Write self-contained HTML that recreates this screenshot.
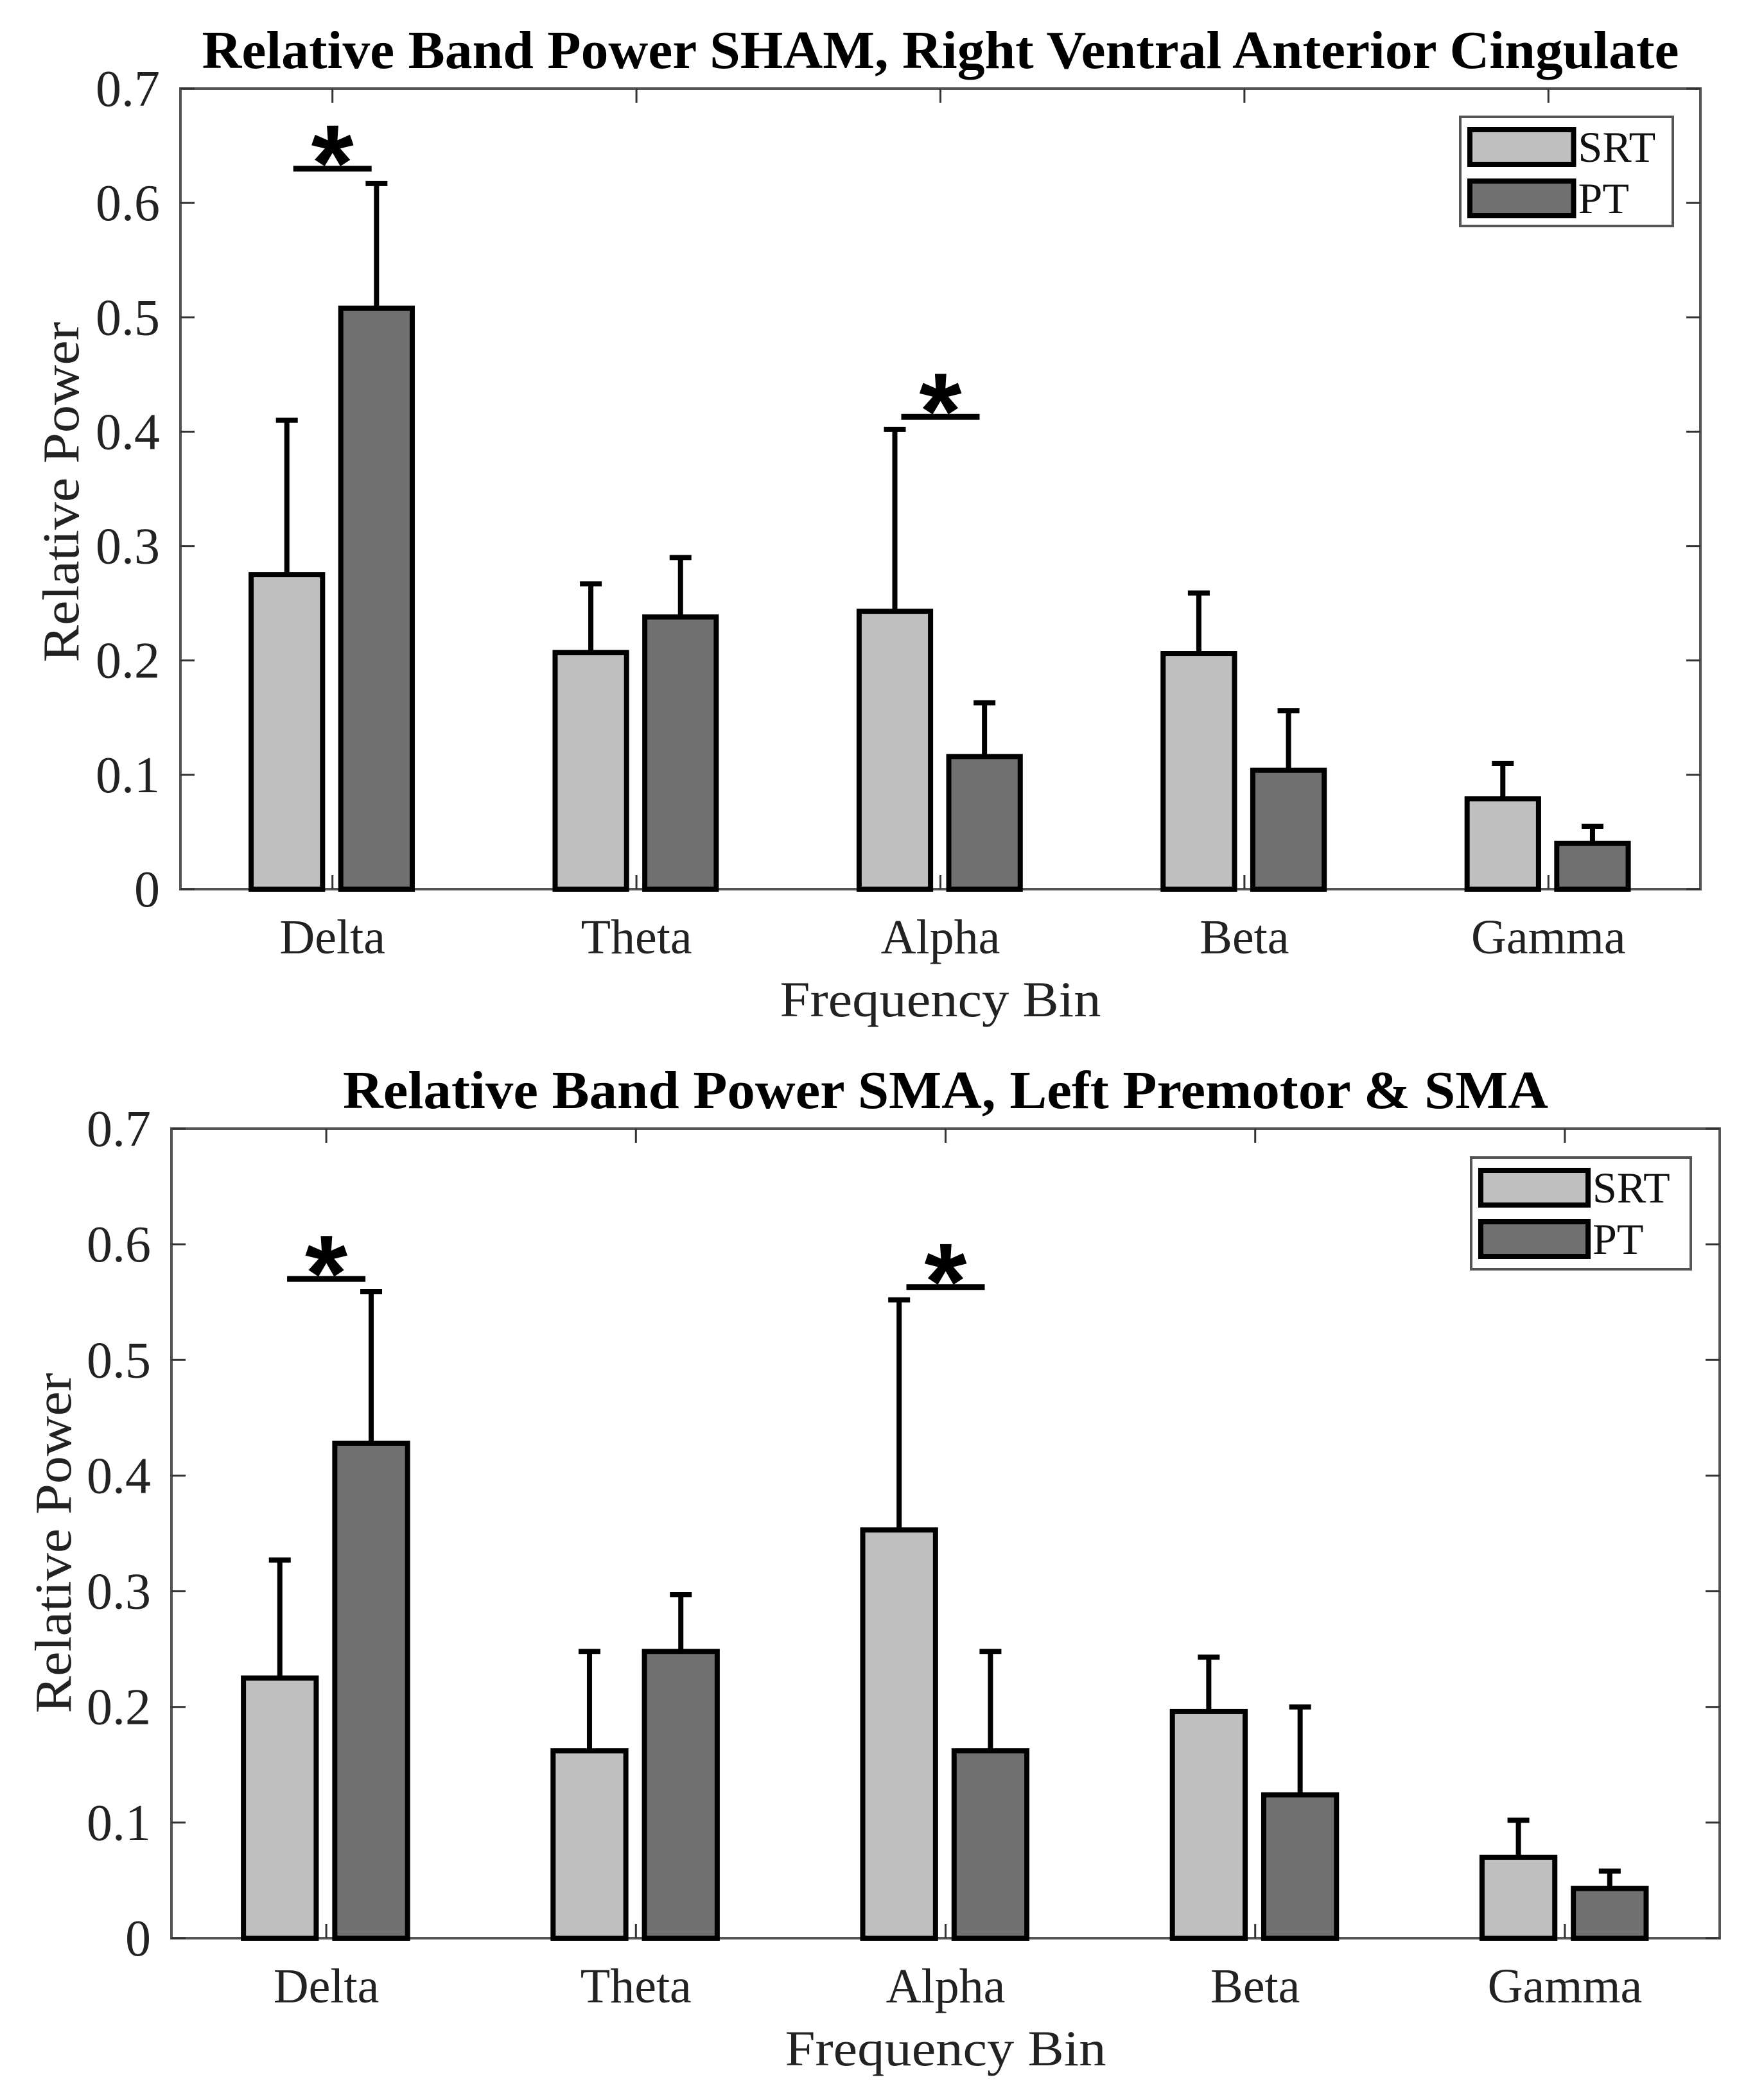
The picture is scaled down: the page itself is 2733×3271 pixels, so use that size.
<!DOCTYPE html>
<html><head><meta charset="utf-8"><style>html,body{margin:0;padding:0;background:#fff}svg{display:block}</style></head>
<body>
<svg id="fig" xmlns="http://www.w3.org/2000/svg" width="2733" height="3271" viewBox="0 0 2733 3271" font-family="Liberation Serif, serif"></svg>
<script>
const categories = ["Delta","Theta","Alpha","Beta","Gamma"];
const yTicks = [0,0.1,0.2,0.3,0.4,0.5,0.6,0.7];
const yTickLabels = ["0","0.1","0.2","0.3","0.4","0.5","0.6","0.7"];
const seriesNames = ["SRT","PT"];
const topSRT = [0.275,0.207,0.243,0.206,0.079];
const topSRTErr = [0.410,0.267,0.402,0.259,0.110];
const topPT = [0.508,0.238,0.116,0.104,0.040];
const topPTErr = [0.617,0.290,0.163,0.156,0.055];
const topSig = [[1,0.630],[3,0.413]];
const botSRT = [0.225,0.162,0.353,0.196,0.070];
const botSRTErr = [0.327,0.248,0.552,0.243,0.102];
const botPT = [0.428,0.248,0.162,0.124,0.043];
const botPTErr = [0.559,0.297,0.248,0.200,0.058];
const botSig = [[1,0.570],[3,0.563]];

const NS="http://www.w3.org/2000/svg";
const svg=document.getElementById('fig');
function el(tag,attrs,parent,text){const e=document.createElementNS(NS,tag);for(const k in attrs)e.setAttribute(k,attrs[k]);if(text!==undefined)e.textContent=text;(parent||svg).appendChild(e);return e;}
const fills=["#bfbfbf","#707070"];

function drawPanel(cfg){
  const g=el('g',{});
  
  
  const L=cfg.L,R=cfg.R,T=cfg.T,B=cfg.B;
  const xs=v=>L+(v-0.5)/5*(R-L);
  const ys=v=>B-v/0.7*(B-T);
  const ux=(R-L)/5;
  const t=el('text',{x:(L+R)/2,y:T-32,'text-anchor':'middle','font-size':84,'font-weight':'bold',textLength:cfg.titleW,lengthAdjust:'spacingAndGlyphs'},g,cfg.title);
  
  
  const box=el('rect',{x:L,y:T,width:R-L,height:B-T,fill:'none',stroke:'#555',"stroke-width":4},g);
  
  
  yTicks.forEach((v,i)=>{
    const y=ys(v);
    el('line',{x1:L,x2:L+22,y1:y,y2:y,stroke:'#333','stroke-width':3},g);
    el('line',{x1:R,x2:R-22,y1:y,y2:y,stroke:'#333','stroke-width':3},g);
    const tl=el('text',{x:L-32,y:y+27,'text-anchor':'end','font-size':80,fill:'#222'},g,yTickLabels[i]);
    
    
  });
  categories.forEach((c,i)=>{
    const x=xs(i+1);
    el('line',{x1:x,x2:x,y1:B,y2:B-22,stroke:'#333','stroke-width':3},g);
    el('line',{x1:x,x2:x,y1:T,y2:T+22,stroke:'#333','stroke-width':3},g);
    const cl=el('text',{x:x,y:B+100,'text-anchor':'middle','font-size':76,fill:'#222'},g,c);
    
    
  });
  const series=[[cfg.srt,cfg.srtErr],[cfg.pt,cfg.ptErr]];
  const offs=[-0.15,0.145], bw=0.235*ux;
  series.forEach((s,si)=>{
    s[0].forEach((v,i)=>{
      const cx=xs(i+1)+offs[si]*ux;
      const eb=el('line',{x1:cx,x2:cx,y1:ys(v),y2:ys(s[1][i]),stroke:'#000','stroke-width':8},g);
      
      
      el('line',{x1:cx-17,x2:cx+17,y1:ys(s[1][i]),y2:ys(s[1][i]),stroke:'#000','stroke-width':8},g);
      const r=el('rect',{x:cx-bw/2,y:ys(v),width:bw,height:ys(0)-ys(v),fill:fills[si],stroke:'#000','stroke-width':8},g);
      
      
    });
  });
  cfg.sig.forEach(sg=>{
    const cx=xs(sg[0]);const y=ys(sg[1]);
    const ln=el('line',{x1:cx-61,x2:cx+61,y1:y,y2:y,stroke:'#000','stroke-width':9},g);
    
    
    const st=el('text',{x:cx,y:y+50,'text-anchor':'middle','font-size':170,'font-weight':'bold','font-family':'Liberation Sans, sans-serif'},g,'*');
    
    
  });
  const xl=el('text',{x:(L+R)/2,y:B+198,'text-anchor':'middle','font-size':78,fill:'#222',textLength:500,lengthAdjust:'spacingAndGlyphs'},g,'Frequency Bin');
  
  
  const yc=(T+B)/2+cfg.yLabOff;
  const yl=el('text',{x:0,y:0,transform:`translate(${cfg.yLabX},${yc}) rotate(-90)`,'text-anchor':'middle','font-size':80,fill:'#222',textLength:530,lengthAdjust:'spacingAndGlyphs'},g,'Relative Power');
  
  
  const lg=el('g',{},g);
  
  
  const Lb=cfg.leg;
  el('rect',{x:Lb[0],y:Lb[1],width:Lb[2],height:Lb[3],fill:'#fff',stroke:'#555','stroke-width':4},lg);
  seriesNames.forEach((n,i)=>{
    const sy=Lb[1]+16+i*80;
    const sw=el('rect',{x:Lb[0]+15,y:sy+4,width:Lb[2]*0.5-4,height:54,fill:fills[i],stroke:'#000','stroke-width':8},lg);
    
    
    const lt=el('text',{x:Lb[0]+Lb[2]*0.5+18,y:sy+54,'font-size':68,fill:'#111'},lg,n);
    
    
  });
}
drawPanel({name:'top-chart',L:281,R:2648,T:138,B:1385,title:'Relative Band Power SHAM, Right Ventral Anterior Cingulate',titleW:2300,
  srt:topSRT,srtErr:topSRTErr,pt:topPT,ptErr:topPTErr,sig:topSig,yLabX:122,yLabOff:5,leg:[2274,182,331,170]});
drawPanel({name:'bottom-chart',L:267,R:2678,T:1758,B:3019,title:'Relative Band Power SMA, Left Premotor & SMA',titleW:1877,
  srt:botSRT,srtErr:botSRTErr,pt:botPT,ptErr:botPTErr,sig:botSig,yLabX:110,yLabOff:15,leg:[2291,1803,342,174]});
</script>
</body></html>
